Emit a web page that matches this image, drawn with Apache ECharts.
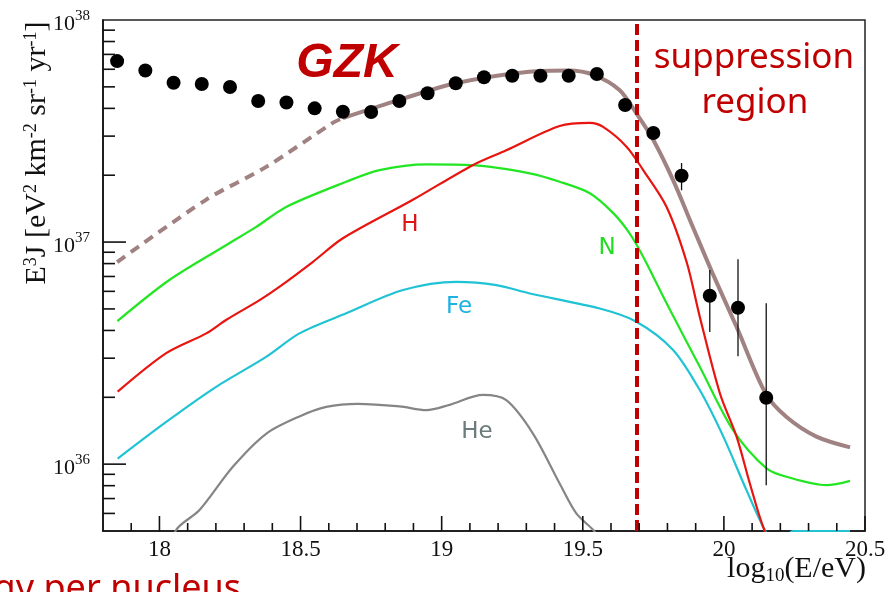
<!DOCTYPE html>
<html>
<head>
<meta charset="utf-8">
<script src="https://cdn.jsdelivr.net/npm/echarts@6.0.0/dist/echarts.min.js"></script>
<style>
  html, body { margin: 0; padding: 0; background: #fff; }
  #chart { width: 894px; height: 592px; }
</style>
</head>
<body>
<div id="chart"></div>
<script>
// Axis ranges: log10(E/eV) horizontally, E^3 J vertically (log scale)
const xMin = 17.8, xMax = 20.5;
const yMin = 5e35, yMax = 1e38;

// Tick positions
const xLabelTicks = [18, 18.5, 19, 19.5, 20, 20.5];
const xMinorTicks = [17.9, 18.1, 18.2, 18.3, 18.4, 18.6, 18.7, 18.8, 18.9, 19.1, 19.2, 19.3, 19.4,
                     19.6, 19.7, 19.8, 19.9, 20.1, 20.2, 20.3, 20.4];
const yMajorTicks = [1e36, 1e37];
const yMinorTicks = [6e35, 7e35, 8e35, 9e35,
                     2e36, 3e36, 4e36, 5e36, 6e36, 7e36, 8e36, 9e36,
                     2e37, 3e37, 4e37, 5e37, 6e37, 7e37, 8e37, 9e37];

// Measured flux points
const dataX = [17.85, 17.95, 18.05, 18.15, 18.25, 18.35, 18.45, 18.55, 18.65, 18.75, 18.85, 18.95,
               19.05, 19.15, 19.25, 19.35, 19.45, 19.55, 19.65, 19.75, 19.85, 19.95, 20.05, 20.15];
const dataY = [6.53e37, 5.92e37, 5.22e37, 5.15e37, 4.99e37, 4.32e37, 4.25e37, 4.00e37, 3.86e37, 3.85e37,
               4.32e37, 4.68e37, 5.19e37, 5.52e37, 5.61e37, 5.61e37, 5.61e37, 5.71e37, 4.14e37, 3.10e37,
               1.99e37, 5.73e36, 5.06e36, 1.99e36];

// Error bars on the highest-energy points
const errX = [19.85, 19.95, 20.05, 20.15];
const errLo = [1.71e37, 3.94e36, 3.06e36, 8.04e35];
const errHi = [2.27e37, 7.48e36, 8.36e36, 5.30e36];

// Total model: extrapolated (dashed) and fitted (solid) parts
const totalDashX = [17.85, 18.165, 18.378, 18.614, 18.65];
const totalDashY = [8.13e36, 1.55e37, 2.18e37, 3.44e37, 3.62e37];
const totalX = [18.65, 18.85, 19.05, 19.31, 19.45, 19.54, 19.63, 19.69, 19.75, 19.82, 19.89, 19.96,
                20.045, 20.148, 20.222, 20.328, 20.447];
const totalY = [3.62e37, 4.37e37, 5.19e37, 5.85e37, 5.92e37, 5.65e37, 4.84e37, 3.80e37, 2.88e37, 1.90e37,
                1.17e37, 7.23e36, 4.15e36, 2.08e36, 1.63e36, 1.33e36, 1.19e36];

// Components
const hX = [17.852, 18.024, 18.166, 18.236, 18.355, 18.426, 18.544, 18.65, 18.898, 19.11, 19.229, 19.418,
            19.525, 19.572, 19.655, 19.714, 19.797, 19.868, 19.915, 19.986, 20.045, 20.092, 20.139, 20.2];
const hY = [2.12e36, 3.16e36, 3.88e36, 4.46e36, 5.48e36, 6.30e36, 8.15e36, 1.04e37, 1.55e37, 2.22e37, 2.59e37, 3.33e37,
            3.44e37, 3.30e37, 2.69e37, 2.11e37, 1.44e37, 8.13e36, 4.59e36, 2.08e36, 1.33e36, 8.18e35, 5.22e35, 3.5e35];

const nX = [17.851, 18.035, 18.236, 18.343, 18.449, 18.662, 18.78, 18.946, 19.111, 19.312, 19.418, 19.525,
            19.608, 19.667, 19.714, 19.797, 19.915, 20.033, 20.151, 20.222, 20.364, 20.447];
const nY = [4.41e36, 6.75e36, 9.68e36, 1.17e37, 1.44e37, 1.87e37, 2.11e37, 2.24e37, 2.22e37, 2.04e37, 1.87e37, 1.66e37,
            1.35e37, 1.09e37, 8.59e36, 5.30e36, 2.74e36, 1.42e36, 9.57e35, 8.77e35, 8.04e35, 8.41e35];

const feX = [17.852, 18.024, 18.201, 18.378, 18.496, 18.662, 18.863, 19.052, 19.194, 19.312, 19.56, 19.69,
             19.82, 19.915, 19.998, 20.08, 20.145, 20.2, 20.245, 20.447];
const feY = [1.06e36, 1.55e36, 2.23e36, 3.04e36, 3.88e36, 4.78e36, 6.08e36, 6.62e36, 6.40e36, 5.87e36, 5.02e36, 4.38e36,
             3.27e36, 2.15e36, 1.33e36, 7.64e35, 5.05e35, 4.0e35, 5.0e35, 5.0e35];

const heX = [18.0, 18.059, 18.142, 18.26, 18.378, 18.496, 18.591, 18.703, 18.851, 18.946, 19.028, 19.146,
             19.229, 19.324, 19.418, 19.477, 19.537, 19.6];
const heY = [3.16e35, 5.05e35, 6.21e35, 9.73e35, 1.37e36, 1.64e36, 1.81e36, 1.87e36, 1.82e36, 1.75e36, 1.85e36, 2.05e36,
             1.94e36, 1.37e36, 8.18e35, 6.00e35, 5.05e35, 3.98e35];

// Start of the suppression region
const suppressionCut = 19.69;

const zip = (xs, ys) => xs.map((x, i) => [x, ys[i]]);

const DARK_RED = '#c00000';
const serif = '"Liberation Serif", "DejaVu Serif", serif';

function tickSeries(points, dx, dy) {
  return {
    type: 'custom',
    coordinateSystem: 'cartesian2d',
    silent: true,
    z: 5,
    data: points,
    renderItem: (params, api) => {
      const p = api.coord([api.value(0), api.value(1)]);
      return {
        type: 'line',
        shape: { x1: p[0], y1: p[1], x2: p[0] + dx, y2: p[1] + dy },
        style: { stroke: '#111', lineWidth: 1.6 }
      };
    }
  };
}

function curve(xs, ys, color, width, dashed) {
  return {
    type: 'line',
    data: zip(xs, ys),
    showSymbol: false,
    smooth: 0.3,
    clip: true,
    silent: true,
    lineStyle: { color: color, width: width, type: dashed ? [10, 7] : 'solid', cap: 'butt' },
    z: 3
  };
}

const chart = echarts.init(document.getElementById('chart'), null, { renderer: 'canvas' });

chart.setOption({
  backgroundColor: '#fff',
  animation: false,
  grid: {
    left: 103, right: 29, top: 20, bottom: 61,
    show: true, borderColor: '#222', borderWidth: 1.5, backgroundColor: 'transparent'
  },
  xAxis: {
    type: 'value',
    min: xMin, max: xMax,
    axisLine: { show: true, lineStyle: { color: '#111', width: 1.6 } },
    axisTick: { show: false },
    splitLine: { show: false },
    axisLabel: {
      customValues: xLabelTicks,
      color: '#111', fontFamily: serif, fontSize: 23, margin: 7,
      formatter: v => String(v)
    }
  },
  yAxis: {
    type: 'log',
    logBase: 10,
    min: yMin, max: yMax,
    axisLine: { show: true, lineStyle: { color: '#111', width: 1.6 } },
    axisTick: { show: false },
    splitLine: { show: false },
    minorSplitLine: { show: false },
    axisLabel: {
      margin: 13,
      formatter: v => {
        const l = Math.log10(v);
        const e = Math.round(l);
        if (Math.abs(l - e) > 1e-3) return '';
        return '{b|10}{s|' + e + '}';
      },
      rich: {
        b: { fontFamily: serif, fontSize: 22, color: '#111', padding: [8, 0, 0, 0] },
        s: { fontFamily: serif, fontSize: 15, color: '#111', padding: [0, 0, 8, 0] }
      }
    }
  },
  series: [
    tickSeries(xLabelTicks.map(v => [v, yMin]), 0, -15),
    tickSeries(xMinorTicks.map(v => [v, yMin]), 0, -8),
    tickSeries(yMajorTicks.map(v => [xMin, v]), 23, 0),
    tickSeries(yMinorTicks.map(v => [xMin, v]), 12, 0),
    curve(heX, heY, '#858585', 2.2, false),
    curve(feX, feY, '#1fc3d3', 2.2, false),
    curve(nX, nY, '#22e622', 2.2, false),
    curve(hX, hY, '#e8140f', 2.2, false),
    curve(totalDashX, totalDashY, '#a08282', 4, true),
    curve(totalX, totalY, '#a08282', 4, false),
    {
      type: 'custom',
      coordinateSystem: 'cartesian2d',
      silent: true,
      z: 6,
      data: errX.map((x, i) => [x, errLo[i], errHi[i]]),
      renderItem: (params, api) => {
        const lo = api.coord([api.value(0), api.value(1)]);
        const hi = api.coord([api.value(0), api.value(2)]);
        return {
          type: 'line',
          shape: { x1: lo[0], y1: lo[1], x2: hi[0], y2: hi[1] },
          style: { stroke: '#111', lineWidth: 1.3 }
        };
      }
    },
    {
      type: 'scatter',
      data: zip(dataX, dataY),
      symbol: 'circle',
      symbolSize: 14,
      itemStyle: { color: '#000', opacity: 1 },
      silent: true,
      z: 7,
      markLine: {
        silent: true,
        symbol: ['none', 'none'],
        label: { show: false },
        lineStyle: { color: DARK_RED, width: 4, type: [11, 5], opacity: 1 },
        data: [{ xAxis: suppressionCut }]
      }
    }
  ],
  graphic: [
    {
      type: 'text', x: 37, y: 153, rotation: Math.PI / 2,
      style: {
        text: 'E{s|3}J [eV{s|2} km{s|-2} sr{s|-1} yr{s|-1}]',
        fontFamily: serif, fontSize: 30, fill: '#111',
        align: 'center', verticalAlign: 'middle',
        rich: {
          s: { fontFamily: serif, fontSize: 18, fill: '#111', padding: [0, 0, 11, 0] }
        }
      }
    },
    {
      type: 'text', x: 866, y: 569,
      style: {
        text: 'log{s|10}(E/eV)',
        fontFamily: serif, fontSize: 30, fill: '#111',
        align: 'right', verticalAlign: 'middle',
        rich: {
          s: { fontFamily: serif, fontSize: 19, fill: '#111', padding: [15, 0, 0, 0] }
        }
      }
    },
    {
      type: 'text', x: 347, y: 64,
      style: {
        text: 'GZK', fontFamily: '"Liberation Sans", Arial, sans-serif', fontWeight: 'bold', fontStyle: 'italic',
        fontSize: 48, fill: DARK_RED, align: 'center', verticalAlign: 'middle'
      }
    },
    {
      type: 'text', x: 754, y: 58,
      style: {
        text: 'suppression', fontFamily: '"Noto Sans", sans-serif', fontSize: 35,
        fill: DARK_RED, align: 'center', verticalAlign: 'middle'
      }
    },
    {
      type: 'text', x: 755, y: 103,
      style: {
        text: 'region', fontFamily: '"Noto Sans", sans-serif', fontSize: 35,
        fill: DARK_RED, align: 'center', verticalAlign: 'middle'
      }
    },
    {
      type: 'text', x: 241, y: 572,
      style: {
        text: 'energy per nucleus', fontFamily: '"Noto Sans", sans-serif', fontSize: 36,
        fill: DARK_RED, align: 'right', verticalAlign: 'top'
      }
    },
    {
      type: 'text', x: 410, y: 225,
      style: { text: 'H', fontFamily: '"DejaVu Sans", sans-serif', fontSize: 23, fill: '#dd1515', align: 'center', verticalAlign: 'middle' }
    },
    {
      type: 'text', x: 607, y: 248,
      style: { text: 'N', fontFamily: '"DejaVu Sans", sans-serif', fontSize: 23, fill: '#22dd22', align: 'center', verticalAlign: 'middle' }
    },
    {
      type: 'text', x: 459, y: 307,
      style: { text: 'Fe', fontFamily: '"DejaVu Sans", sans-serif', fontSize: 23, fill: '#1cb2e2', align: 'center', verticalAlign: 'middle' }
    },
    {
      type: 'text', x: 477, y: 432,
      style: { text: 'He', fontFamily: '"DejaVu Sans", sans-serif', fontSize: 23, fill: '#6b7b7b', align: 'center', verticalAlign: 'middle' }
    }
  ]
});
</script>
</body>
</html>
